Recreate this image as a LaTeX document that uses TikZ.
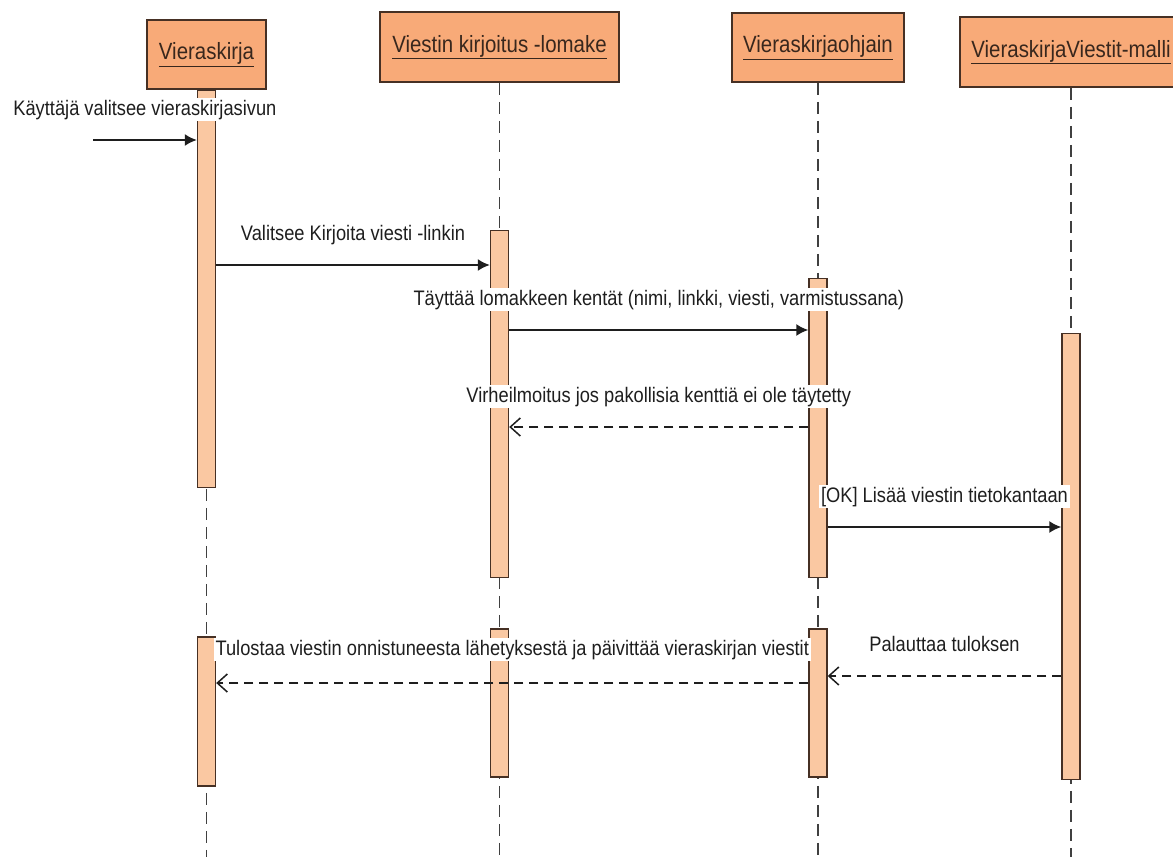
\documentclass[tikz,border=0pt]{standalone}
\usepackage{fontspec}
\setmainfont{Liberation Sans}[FakeStretch=0.87]
\usepackage{tikz}
\usetikzlibrary{arrows.meta}
\usetikzlibrary{positioning,calc}

\definecolor{headcol}{RGB}{248,170,120}
\definecolor{barcol}{RGB}{250,200,162}
\definecolor{edgecol}{RGB}{70,48,36}
\definecolor{linecol}{RGB}{30,30,30}

\begin{document}
\begin{tikzpicture}[
        x=1pt, y=-1pt,
        headsty/.style={
            draw=edgecol, line width=1.8pt,
            fill=headcol, rectangle,
            text=edgecol!80!black,
            font=\fontsize{23.5pt}{28pt}\selectfont,
        },
        barsty/.style={
            draw=edgecol, line width=1.4pt,
            fill=barcol, rectangle,
            minimum width=18pt, inner sep=0pt,
        },
        lifesty/.style={draw=linecol!85, line width=1.6pt, dash pattern=on 12pt off 7pt},
        callsty/.style={-{Latex[length=12pt,width=12pt]}, draw=linecol, line width=1.7pt},
        retsty/.style={-{Straight Barb[length=10pt,width=18pt]}, draw=linecol, line width=1.5pt, dash pattern=on 9pt off 6pt},
        msgsty/.style={midway, anchor=base, yshift=25pt, fill=white, inner sep=2pt,
            text=linecol, font=\fontsize{21pt}{25pt}\selectfont},
    ]

    \useasboundingbox (0,0) rectangle (1173,857);
    \coordinate (bot) at (0,857);

    \node[headsty, minimum width=119pt, minimum height=69pt] at (206.5,54.5) (vk) {\underline{Vieraskirja}};
    \node[headsty, minimum width=239pt, minimum height=70pt] at (499.5,47) (vl) {\underline{Viestin kirjoitus -lomake}};
    \node[headsty, minimum width=172pt, minimum height=69pt] at (818,47.5) (vo) {\underline{Vieraskirjaohjain}};
    \node[headsty, minimum width=222pt, minimum height=70pt] at (1071,52) (vm) {\underline{VieraskirjaViestit-malli}};

    \foreach \h in {vk,vl,vo,vm}
        \draw[lifesty] (\h.south) -- (\h.south |- bot);

    \node[barsty, minimum height=397pt, below=0pt of vk] (a1) {};
    \node[barsty, minimum height=149pt, below=148pt of a1] (a1b) {};
    \node[barsty, minimum height=347pt, below=147pt of vl] (a2) {};
    \node[barsty, minimum height=148pt, below=50pt of a2] (a2b) {};
    \node[barsty, minimum height=299pt, below=195pt of vo] (a3) {};
    \node[barsty, minimum height=148pt, below=50pt of a3] (a3b) {};
    \node[barsty, minimum height=446pt, below=245pt of vm] (a4) {};

    \coordinate (m1) at (93,140);
    \coordinate (m2) at (0,265);
    \coordinate (m3) at (0,330);
    \coordinate (m4) at (0,427);
    \coordinate (m5) at (0,527);
    \coordinate (m6) at (0,676);
    \coordinate (m7) at (0,683);

    \draw[callsty] (m1) -- node[msgsty] {Käyttäjä valitsee vieraskirjasivun} (a1.west |- m1);
    \draw[callsty] (a1.east |- m2) -- node[msgsty] {Valitsee Kirjoita viesti -linkin} (a2.west |- m2);
    \draw[callsty] (a2.east |- m3) -- node[msgsty] {Täyttää lomakkeen kentät (nimi, linkki, viesti, varmistussana)} (a3.west |- m3);
    \draw[retsty] (a3.west |- m4) -- node[msgsty] {Virheilmoitus jos pakollisia kenttiä ei ole täytetty} (a2.east |- m4);
    \draw[callsty] (a3.east |- m5) -- node[msgsty] {[OK] Lisää viestin tietokantaan} (a4.west |- m5);
    \draw[retsty] (a4.west |- m6) -- node[msgsty] {Palauttaa tuloksen} (a3b.east |- m6);
    \draw[retsty] (a3b.west |- m7) -- node[msgsty, yshift=3pt] {Tulostaa viestin onnistuneesta lähetyksestä ja päivittää vieraskirjan viestit} (a1b.east |- m7);

\end{tikzpicture}
\end{document}
